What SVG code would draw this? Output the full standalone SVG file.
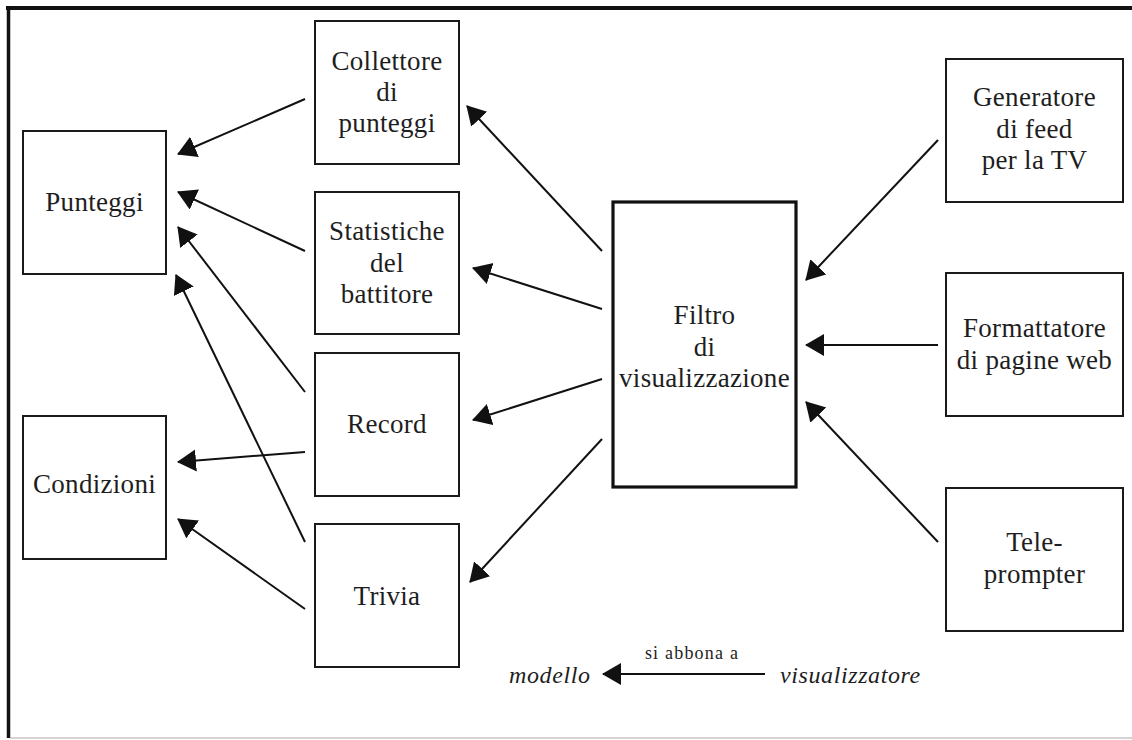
<svg xmlns="http://www.w3.org/2000/svg" width="1132" height="740" viewBox="0 0 1132 740">
  <defs>
    <style>
      .box { fill: #ffffff; stroke: #1a1a1a; stroke-width: 2; }
      .boxb { fill: #ffffff; stroke: #111111; stroke-width: 3.2; }
      .t { font-family: "Liberation Serif", "Times New Roman", serif; font-size: 27px; fill: #1e1e1e; text-anchor: middle; letter-spacing: 0.3px; }
      .it { font-family: "Liberation Serif", "Times New Roman", serif; font-size: 24px; font-style: italic; fill: #1e1e1e; letter-spacing: 0.6px; }
      .sm { font-family: "Liberation Serif", "Times New Roman", serif; font-size: 18px; fill: #1e1e1e; text-anchor: middle; letter-spacing: 1.2px; }
      .c { stroke: #111111; stroke-width: 2; fill: none; marker-end: url(#ah); }
    </style>
    <marker id="ah" markerUnits="userSpaceOnUse" markerWidth="22" markerHeight="24" refX="18" refY="11" orient="auto">
      <path d="M0,0 L19,11 L0,22 z" fill="#111111"/>
    </marker>
  </defs>

  <rect width="1132" height="740" fill="#ffffff"/>
  <!-- frame -->
  <line x1="6" y1="8" x2="1132" y2="8" stroke="#111111" stroke-width="4"/>
  <line x1="8.5" y1="6" x2="8.5" y2="738" stroke="#111111" stroke-width="3.5"/>
  <line x1="10" y1="738" x2="1132" y2="738" stroke="#aaaaaa" stroke-width="1.2"/>

  <g id="punteggi">
    <rect class="box" x="23" y="131" width="143" height="143"/>
    <text class="t" x="94.5" y="211">Punteggi</text>
  </g>
  <g id="condizioni">
    <rect class="box" x="23" y="416" width="143" height="143"/>
    <text class="t" x="94.5" y="493">Condizioni</text>
  </g>
  <g id="collettore">
    <rect class="box" x="315" y="21" width="144" height="143"/>
    <text class="t" x="387" y="70">Collettore</text>
    <text class="t" x="387" y="101">di</text>
    <text class="t" x="387" y="132">punteggi</text>
  </g>
  <g id="statistiche">
    <rect class="box" x="315" y="192" width="144" height="142"/>
    <text class="t" x="387" y="240">Statistiche</text>
    <text class="t" x="387" y="272">del</text>
    <text class="t" x="387" y="303">battitore</text>
  </g>
  <g id="record">
    <rect class="box" x="315" y="353" width="144" height="143"/>
    <text class="t" x="387" y="433">Record</text>
  </g>
  <g id="trivia">
    <rect class="box" x="315" y="524" width="144" height="143"/>
    <text class="t" x="387" y="605">Trivia</text>
  </g>
  <g id="filtro">
    <rect class="boxb" x="613" y="202" width="183" height="285"/>
    <text class="t" x="704.5" y="324">Filtro</text>
    <text class="t" x="704.5" y="355.5">di</text>
    <text class="t" x="704.5" y="387">visualizzazione</text>
  </g>
  <g id="generatore">
    <rect class="box" x="946" y="59" width="177" height="143"/>
    <text class="t" x="1034.5" y="106">Generatore</text>
    <text class="t" x="1034.5" y="137.5">di feed</text>
    <text class="t" x="1034.5" y="169">per la TV</text>
  </g>
  <g id="formattatore">
    <rect class="box" x="946" y="273" width="177" height="143"/>
    <text class="t" x="1034.5" y="337">Formattatore</text>
    <text class="t" x="1034.5" y="368.5">di pagine web</text>
  </g>
  <g id="teleprompter">
    <rect class="box" x="946" y="488" width="177" height="143"/>
    <text class="t" x="1034.5" y="551">Tele-</text>
    <text class="t" x="1034.5" y="583">prompter</text>
  </g>

  <g id="connectors">
    <line class="c" x1="305" y1="99" x2="178" y2="154"/>
    <line class="c" x1="305" y1="251" x2="178" y2="192"/>
    <line class="c" x1="305" y1="392" x2="178" y2="227"/>
    <line class="c" x1="305" y1="542" x2="176" y2="275"/>
    <line class="c" x1="305" y1="452" x2="178" y2="462"/>
    <line class="c" x1="305" y1="609" x2="178" y2="519"/>
    <line class="c" x1="602" y1="251" x2="467" y2="106"/>
    <line class="c" x1="602" y1="309" x2="473" y2="268"/>
    <line class="c" x1="602" y1="379" x2="473" y2="420"/>
    <line class="c" x1="602" y1="439" x2="470" y2="582"/>
    <line class="c" x1="938" y1="140" x2="806" y2="280"/>
    <line class="c" x1="938" y1="345" x2="806" y2="345"/>
    <line class="c" x1="938" y1="542" x2="806" y2="402"/>
    <line class="c" x1="765" y1="674" x2="603" y2="674"/>
  </g>

  <g id="legend">
    <text class="sm" x="692" y="659">si abbona a</text>
    <text class="it" x="509" y="683">modello</text>
    <text class="it" x="780" y="683">visualizzatore</text>
  </g>
</svg>
